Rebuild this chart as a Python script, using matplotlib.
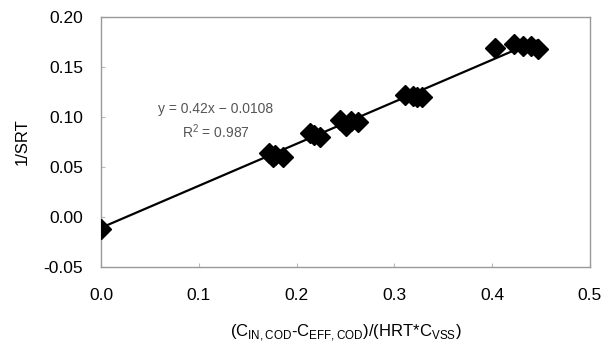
import numpy as np
import matplotlib
matplotlib.use("Agg")
import matplotlib.pyplot as plt

plt.rcParams["font.family"] = ["Liberation Sans", "DejaVu Sans"]
plt.rcParams["mathtext.fontset"] = "custom"
plt.rcParams["mathtext.rm"] = "Liberation Sans"

# dados
x_vals = [0.0, 0.172, 0.176, 0.178, 0.186, 0.214, 0.218, 0.224,
          0.244, 0.251, 0.256, 0.263, 0.311, 0.319, 0.323, 0.328,
          0.403, 0.422, 0.432, 0.440, 0.447]
y_vals = [-0.012, 0.064, 0.060, 0.062, 0.060, 0.084, 0.082, 0.080,
          0.097, 0.091, 0.096, 0.095, 0.122, 0.121, 0.120, 0.120,
          0.169, 0.173, 0.171, 0.171, 0.168]
slope, intercept, r2 = 0.42, -0.0108, 0.987
x_ticks = [0.0, 0.1, 0.2, 0.3, 0.4, 0.5]
y_ticks = [-0.05, 0.0, 0.05, 0.10, 0.15, 0.20]

fig = plt.figure(figsize=(6.03, 3.48), dpi=100)
ax = fig.add_axes([101 / 603, 1 - 267 / 348, 489 / 603, 250 / 348])

xl = np.array([0.0, max(x_vals)])
ax.plot(xl, slope * xl + intercept, c="black", lw=1.6, zorder=2)
ax.plot(x_vals, y_vals, ls="none", marker="D", ms=10, c="black", zorder=3)

ax.set_xlim(0, 0.5)
ax.set_ylim(-0.05, 0.20)
ax.set_xticks(x_ticks)
ax.set_yticks(y_ticks)
ax.set_xticklabels([f"{v:.1f}" for v in x_ticks])
ax.set_yticklabels([f"{v:.2f}" for v in y_ticks])
ax.tick_params(direction="in", length=3, color="#bbbbbb", labelsize=12.5)
ax.tick_params(axis="x", pad=15)
ax.tick_params(axis="y", pad=13)
for sp in ax.spines.values():
    sp.set_color("#999999")
    sp.set_linewidth(1.0)

ax.text(0.117, 0.1085, "y = 0.42x − 0.0108", fontsize=10, color="#555555",
        ha="center", va="center")
ax.text(0.117, 0.085, f"R$^2$ = {r2}", fontsize=10, color="#555555",
        ha="center", va="center")

ax.set_ylabel("1/SRT", fontsize=12, labelpad=10)
ax.set_xlabel(r"(C$_{\mathrm{IN,COD}}$-C$_{\mathrm{EFF,COD}}$)/(HRT*C$_{\mathrm{VSS}}$)",
              fontsize=12, labelpad=14)

fig.savefig("out.png", dpi=100)
